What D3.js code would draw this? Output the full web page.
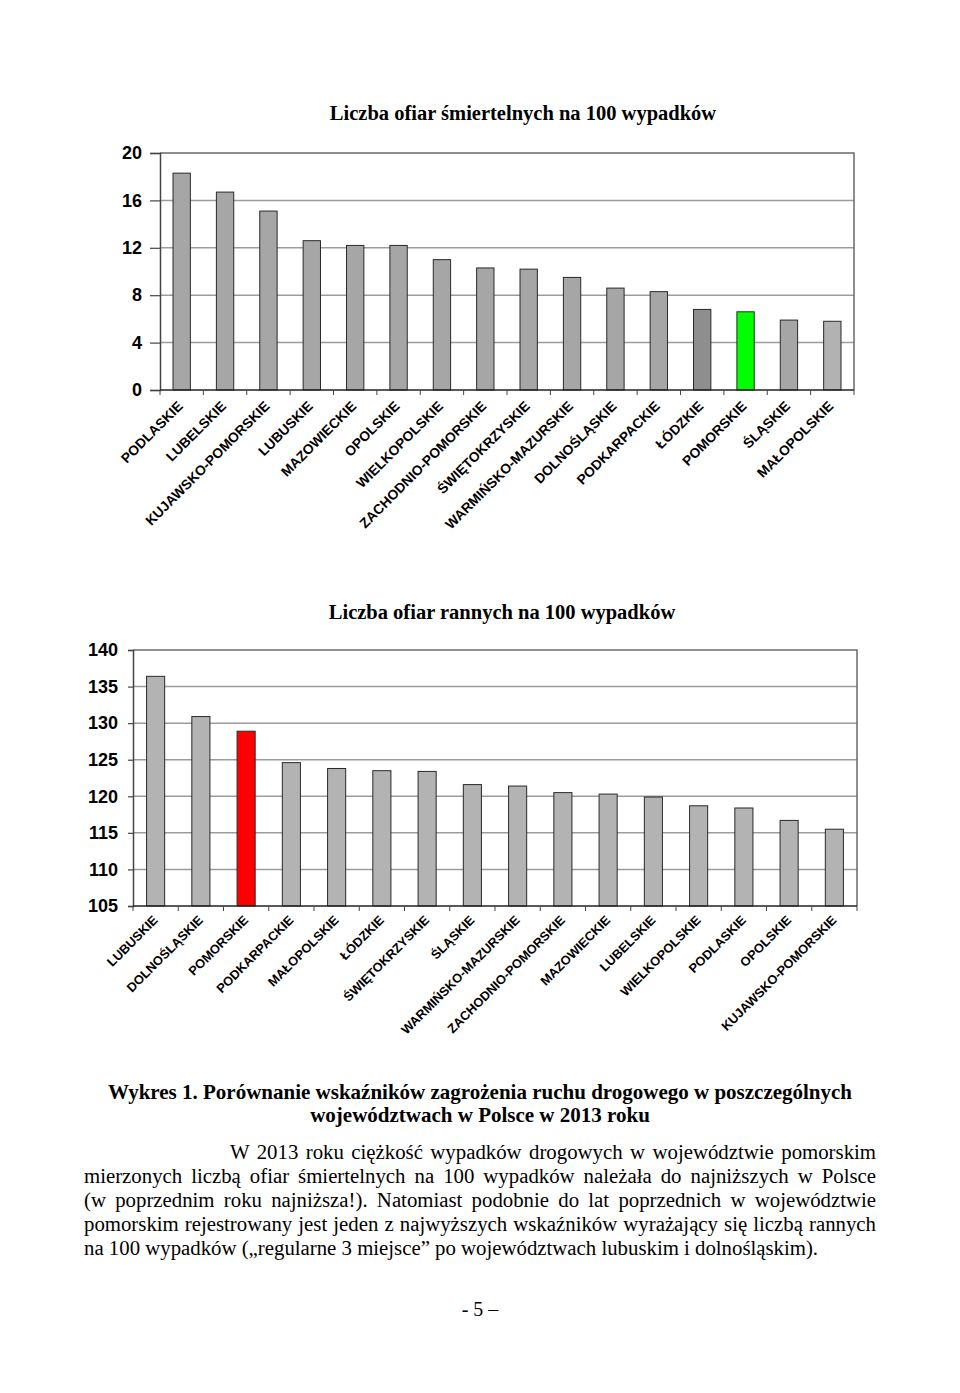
<!DOCTYPE html>
<html>
<head>
<meta charset="utf-8">
<script src="https://cdn.jsdelivr.net/npm/d3@7/dist/d3.min.js"></script>
<style>
  html, body { margin: 0; padding: 0; background: #fff; }
  svg { display: block; }
</style>
</head>
<body>
<svg id="page" width="960" height="1393"></svg>
<script>
// ---------- DATA ----------
const fatalTitle = "Liczba ofiar śmiertelnych na 100 wypadków";
const fatalCategories = ["PODLASKIE","LUBELSKIE","KUJAWSKO-POMORSKIE","LUBUSKIE","MAZOWIECKIE","OPOLSKIE","WIELKOPOLSKIE","ZACHODNIO-POMORSKIE","ŚWIĘTOKRZYSKIE","WARMIŃSKO-MAZURSKIE","DOLNOŚLĄSKIE","PODKARPACKIE","ŁÓDZKIE","POMORSKIE","ŚLĄSKIE","MAŁOPOLSKIE"];
const fatalValues = [18.3, 16.7, 15.1, 12.6, 12.2, 12.2, 11.0, 10.3, 10.2, 9.5, 8.6, 8.3, 6.8, 6.6, 5.9, 5.8];
const fatalTicks = [0, 4, 8, 12, 16, 20];

const injuredTitle = "Liczba ofiar rannych na 100 wypadków";
const injuredCategories = ["LUBUSKIE","DOLNOŚLĄSKIE","POMORSKIE","PODKARPACKIE","MAŁOPOLSKIE","ŁÓDZKIE","ŚWIĘTOKRZYSKIE","ŚLĄSKIE","WARMIŃSKO-MAZURSKIE","ZACHODNIO-POMORSKIE","MAZOWIECKIE","LUBELSKIE","WIELKOPOLSKIE","PODLASKIE","OPOLSKIE","KUJAWSKO-POMORSKIE"];
const injuredValues = [136.4, 130.9, 128.9, 124.6, 123.8, 123.5, 123.4, 121.6, 121.4, 120.5, 120.3, 119.9, 118.7, 118.4, 116.7, 115.5];
const injuredTicks = [105, 110, 115, 120, 125, 130, 135, 140];

const captionLines = [
  "Wykres 1. Porównanie wskaźników zagrożenia ruchu drogowego w poszczególnych",
  "województwach w Polsce w 2013 roku"
];
const paragraphLines = [
  "W 2013 roku ciężkość wypadków drogowych w województwie pomorskim",
  "mierzonych liczbą ofiar śmiertelnych na 100 wypadków należała do najniższych w Polsce",
  "(w poprzednim roku najniższa!). Natomiast podobnie do lat poprzednich w województwie",
  "pomorskim rejestrowany jest jeden z najwyższych wskaźników wyrażający się liczbą rannych",
  "na 100 wypadków („regularne 3 miejsce” po województwach lubuskim i dolnośląskim)."
];
const pageNumber = "- 5 –";

// ---------- DRAW ----------
const svg = d3.select("#page");
const SANS = "'Liberation Sans', Arial, sans-serif";
const SERIF = "'Liberation Serif', 'Times New Roman', serif";

function drawChart(opts) {
  const { cats, vals, ticks, title, box, colorOf, tickLen, tickPad, titleX, titleY, labDx, labDy, labSize } = opts;
  const g = svg.append("g");
  const x = d3.scaleBand().domain(cats).range([box.x0, box.x1]).paddingInner(0.6).paddingOuter(0.3);
  const y = d3.scaleLinear().domain([ticks[0], ticks[ticks.length - 1]]).range([box.y1, box.y0]);
  const step = x.step();

  // gridlines
  g.append("g").selectAll("line").data(ticks.slice(1, -1)).join("line")
    .attr("x1", box.x0).attr("x2", box.x1)
    .attr("y1", d => y(d)).attr("y2", d => y(d))
    .attr("stroke", "#9c9c9c").attr("stroke-width", 1.5);

  // top & right border
  g.append("path")
    .attr("d", `M${box.x0},${box.y0}H${box.x1}V${box.y1}`)
    .attr("fill", "none").attr("stroke", "#6a6a6a").attr("stroke-width", 1.5);

  // bars
  g.append("g").selectAll("rect").data(cats).join("rect")
    .attr("x", d => x(d)).attr("width", x.bandwidth())
    .attr("y", (d, i) => y(vals[i])).attr("height", (d, i) => y(ticks[0]) - y(vals[i]))
    .attr("fill", d => colorOf(d)).attr("stroke", "#2a2a2a").attr("stroke-width", 1);

  // y axis
  const ya = g.append("g").attr("transform", `translate(${box.x0},0)`)
    .call(d3.axisLeft(y).tickValues(ticks).tickSize(tickLen).tickPadding(tickPad).tickFormat(d3.format("d")));
  ya.select(".domain").attr("stroke", "#444").attr("stroke-width", 1.5);
  ya.selectAll(".tick line").attr("stroke", "#444").attr("stroke-width", 1.2);
  ya.selectAll(".tick text").attr("font-family", SANS).attr("font-weight", "bold")
    .attr("font-size", 18).attr("fill", "#000");

  // x axis line & ticks at category boundaries
  g.append("line").attr("x1", box.x0).attr("x2", box.x1).attr("y1", box.y1).attr("y2", box.y1)
    .attr("stroke", "#222").attr("stroke-width", 1.5);
  g.append("g").selectAll("line").data(d3.range(cats.length + 1)).join("line")
    .attr("x1", i => box.x0 + i * step).attr("x2", i => box.x0 + i * step)
    .attr("y1", box.y1).attr("y2", box.y1 + 5)
    .attr("stroke", "#444").attr("stroke-width", 1);

  // category labels
  g.append("g").selectAll("text").data(cats).join("text")
    .attr("transform", d => `translate(${x(d) + x.bandwidth() / 2 + labDx},${box.y1 + labDy}) rotate(-45)`)
    .attr("text-anchor", "end")
    .attr("font-family", SANS).attr("font-weight", "bold").attr("font-size", labSize)
    .attr("fill", "#000")
    .text(d => d);

  // title
  g.append("text").attr("x", titleX).attr("y", titleY).attr("text-anchor", "middle")
    .attr("font-family", SERIF).attr("font-weight", "bold").attr("font-size", 20.5)
    .text(title);
}

drawChart({
  cats: fatalCategories, vals: fatalValues, ticks: fatalTicks, title: fatalTitle,
  box: { x0: 160, x1: 854, y0: 153, y1: 390 },
  tickLen: 10, tickPad: 8, titleX: 523, titleY: 120, labDx: 2, labDy: 17, labSize: 13.8,
  colorOf: d => d === "POMORSKIE" ? "#00ff00" : d === "ŁÓDZKIE" ? "#8e8e8e" : d === "MAŁOPOLSKIE" ? "#b2b2b2" : "#a6a6a6"
});

drawChart({
  cats: injuredCategories, vals: injuredValues, ticks: injuredTicks, title: injuredTitle,
  box: { x0: 133, x1: 857, y0: 650, y1: 906 },
  tickLen: 5, tickPad: 10, titleX: 502, titleY: 619, labDx: 3, labDy: 15, labSize: 12.8,
  colorOf: d => d === "POMORSKIE" ? "#ff0000" : "#b3b3b3"
});

// caption
const cap = svg.append("g").attr("font-family", SERIF).attr("font-weight", "bold").attr("font-size", 21);
cap.append("text").attr("x", 480).attr("y", 1099).attr("text-anchor", "middle").text(captionLines[0]);
cap.append("text").attr("x", 480).attr("y", 1122).attr("text-anchor", "middle").text(captionLines[1]);

// justified paragraph
const para = svg.append("g").attr("font-family", SERIF).attr("font-size", 20.8).attr("fill", "#000");
const pLeft = 84, pRight = 876, indent = 230;
paragraphLines.forEach((line, i) => {
  const x0 = i === 0 ? indent : pLeft;
  const t = para.append("text").attr("x", x0).attr("y", 1159 + i * 24).text(line);
  if (i < paragraphLines.length - 1) {
    const len = t.node().getComputedTextLength();
    const spaces = (line.match(/ /g) || []).length;
    t.style("word-spacing", ((pRight - x0 - len) / spaces) + "px");
  }
});

// page number
svg.append("text").attr("x", 480).attr("y", 1316).attr("text-anchor", "middle")
  .attr("font-family", SERIF).attr("font-size", 20).text(pageNumber);
</script>
</body>
</html>
